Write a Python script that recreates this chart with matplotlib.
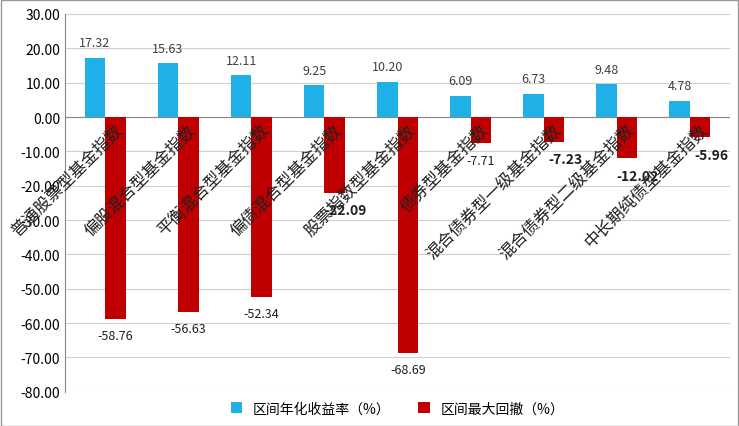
import matplotlib
matplotlib.use("Agg")
import matplotlib.pyplot as plt
import numpy as np

categories = ["普通股票型基金指数", "偏股混合型基金指数", "平衡混合型基金指数", "偏债混合型基金指数",
              "股票指数型基金指数", "债券型基金指数", "混合债券型一级基金指数", "混合债券型二级基金指数",
              "中长期纯债型基金指数"]
ret = [17.32, 15.63, 12.11, 9.25, 10.20, 6.09, 6.73, 9.48, 4.78]
dd = [-58.76, -56.63, -52.34, -22.09, -68.69, -7.71, -7.23, -12.02, -5.96]
bold_dd = [False, False, False, True, False, False, True, True, True]

plt.rcParams["font.family"] = ["Noto Sans CJK SC", "DejaVu Sans"]
fig = plt.figure(figsize=(7.39, 4.27), dpi=100)
ax = fig.add_axes([0.088, 0.08, 0.9, 0.885])
x = np.arange(len(categories))
w = 0.28
blue, red = "#1FB0E8", "#C00000"
ax.bar(x - w/2, ret, w, color=blue, label="区间年化收益率（%）", zorder=3)
ax.bar(x + w/2, dd, w, color=red, label="区间最大回撤（%）", zorder=3)
for i in x:
    ax.text(i - w/2, ret[i] + 2.5, f"{ret[i]:.2f}", ha="center", va="bottom", fontsize=9, color="#404040")
    ax.text(i + w/2 + (0.15 if bold_dd[i] else 0), dd[i] - 3, f"{dd[i]:.2f}", ha="center", va="top",
            fontsize=10 if bold_dd[i] else 9, fontweight="bold" if bold_dd[i] else "normal", color="#202020")
    ax.text(i + 0.12, -1, categories[i], rotation=45, rotation_mode="anchor", ha="right", va="top",
            fontsize=12, color="#202020", zorder=4)
ax.set_ylim(-80, 30)
ax.set_yticks(np.arange(-80, 31, 10))
ax.set_yticklabels([f"{v:.2f}" for v in np.arange(-80, 31, 10)], fontsize=10)
ax.set_xlim(-0.55, len(categories) - 0.45)
ax.set_xticks([])
ax.axhline(0, color="#888888", lw=0.8, zorder=2)
ax.grid(axis="y", color="#d0d0d0", lw=0.8, zorder=0)
for s in ["top", "right", "bottom"]:
    ax.spines[s].set_visible(False)
ax.spines["left"].set_color("#888888")
ax.tick_params(axis="y", length=0)
ax.legend(loc="lower center", bbox_to_anchor=(0.5, -0.095), ncol=2, frameon=False, fontsize=10,
          handlelength=0.8, handleheight=0.8, columnspacing=2)
fig.patches.append(plt.Rectangle((0.001, 0.001), 0.997, 0.997, transform=fig.transFigure,
                                 fill=False, edgecolor="#999999", lw=1))
fig.savefig("out.png", dpi=100)
